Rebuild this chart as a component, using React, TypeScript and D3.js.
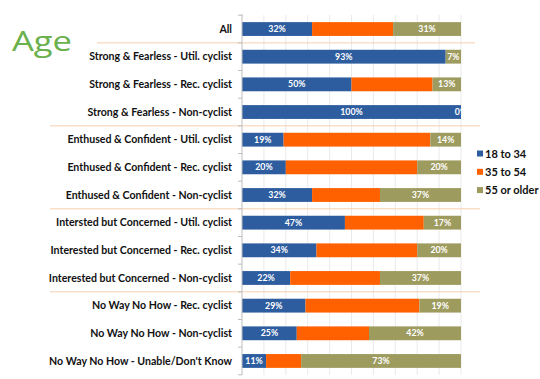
import React from "react";
import * as d3 from "d3";

const categories = [
  "All",
  "Strong & Fearless - Util. cyclist",
  "Strong & Fearless - Rec. cyclist",
  "Strong & Fearless - Non-cyclist",
  "Enthused & Confident - Util. cyclist",
  "Enthused & Confident - Rec. cyclist",
  "Enthused & Confident - Non-cyclist",
  "Intersted but Concerned - Util. cyclist",
  "Interested but Concerned - Rec. cyclist",
  "Interested but Concerned - Non-cyclist",
  "No Way No How - Rec. cyclist",
  "No Way No How - Non-cyclist",
  "No Way No How - Unable/Don't Know",
];
const age18to34 = [32, 93, 50, 100, 19, 20, 32, 47, 34, 22, 29, 25, 11];
const age35to54 = [37, 0, 37, 0, 67, 60, 31, 36, 46, 41, 52, 33, 16];
const age55plus = [31, 7, 13, 0, 14, 20, 37, 17, 20, 37, 19, 42, 73];
const seriesNames = ["18 to 34", "35 to 54", "55 or older"];
const showLabel = [true, false, true];
const groupBreaks = [0, 3, 6, 9]; // separator after these row indices
const gridTicks = [10, 20, 30, 40, 50, 60, 70, 80, 90, 100];

const colors = ["#2D5D9F", "#FF6100", "#9E9B5F"];
const FONT = "Lato, 'Open Sans', sans-serif";

export default function App() {
  const W = 540, H = 379;
  const x0 = 242, x1 = 461;
  const x = d3.scaleLinear().domain([0, 100]).range([x0, x1]);
  const y = d3
    .scaleBand<string>()
    .domain(categories)
    .range([15.2, 374.8])
    .paddingInner(0.5)
    .paddingOuter(0.25);
  const step = y.step();
  const bw = y.bandwidth();

  const rows = categories.map((c, i) => ({
    cat: c,
    "18 to 34": age18to34[i],
    "35 to 54": age35to54[i],
    "55 or older": age55plus[i],
  }));
  const stacked = d3.stack<any>().keys(seriesNames)(rows);

  const boundary = (i: number) => (y(categories[i]) as number) - step * 0.25;
  const boundaries = d3.range(categories.length + 1).map((i) =>
    i < categories.length ? boundary(i) : (y(categories[i - 1]) as number) + bw + step * 0.25
  );

  return (
    <svg width={W} height={H} style={{ position: "absolute", left: 0, top: 0 }}>
      <rect width={W} height={H} fill="#fff" />
      <defs>
        <clipPath id="plotclip">
          <rect x={x0} y={0} width={x1 - x0} height={H} />
        </clipPath>
      </defs>
      {/* Title */}
      <text
        x={12}
        y={51}
        fontFamily="'Open Sans', sans-serif"
        fontSize={27}
        textLength={60}
        lengthAdjust="spacingAndGlyphs"
        fill="#6AB04C"
      >
        Age
      </text>
      {/* gridlines */}
      {gridTicks.map((t) => (
        <line key={t} x1={x(t)} x2={x(t)} y1={15} y2={375} stroke="#E4E4E4" strokeWidth={0.8} />
      ))}
      {/* group separators */}
      {groupBreaks.map((g, k) => (
        <line
          key={g}
          x1={k === 0 ? 97 : 50}
          x2={k === 0 ? 475 : 480}
          y1={boundary(g + 1)}
          y2={boundary(g + 1)}
          stroke="#F8CFAE"
          strokeWidth={1}
        />
      ))}
      {/* bars */}
      <g clipPath="url(#plotclip)">
        {stacked.map((s, si) =>
          s.map((d, i) => (
            <rect
              key={si + "-" + i}
              x={x(d[0])}
              y={y(categories[i])}
              width={Math.max(0, x(d[1]) - x(d[0]))}
              height={bw}
              fill={colors[si]}
            />
          ))
        )}
        {stacked.map((s, si) =>
          showLabel[si]
            ? s.map((d, i) => (
                <text
                  key={"l" + si + "-" + i}
                  x={(x(d[0]) + x(d[1])) / 2}
                  y={(y(categories[i]) as number) + bw / 2}
                  dy="0.35em"
                  textAnchor="middle"
                  fontFamily={FONT}
                  fontWeight="bold"
                  fontSize={8.8}
                  fill="#fff"
                >
                  {d[1] - d[0]}%
                </text>
              ))
            : null
        )}
      </g>
      {/* axis */}
      <line x1={x0} x2={x0} y1={14} y2={375} stroke="#BDBDBD" strokeWidth={1} />
      {boundaries.map((b, i) => (
        <line key={"t" + i} x1={x0 - 4} x2={x0} y1={b} y2={b} stroke="#BDBDBD" strokeWidth={1} />
      ))}
      {/* category labels */}
      {categories.map((c) => (
        <text
          key={c}
          x={232}
          y={(y(c) as number) + bw / 2}
          dy="0.35em"
          textAnchor="end"
          fontFamily={FONT}
          fontWeight="bold"
          fontSize={10.6}
          fill="#111"
        >
          {c}
        </text>
      ))}
      {/* legend */}
      {seriesNames.map((n, i) => (
        <g key={n} transform={`translate(477, ${154 + i * 18.3})`}>
          <rect x={0} y={-3.5} width={6} height={6} fill={colors[i]} />
          <text x={8} y={0} dy="0.35em" fontFamily={FONT} fontWeight="bold" fontSize={11} fill="#111">
            {n}
          </text>
        </g>
      ))}
    </svg>
  );
}
